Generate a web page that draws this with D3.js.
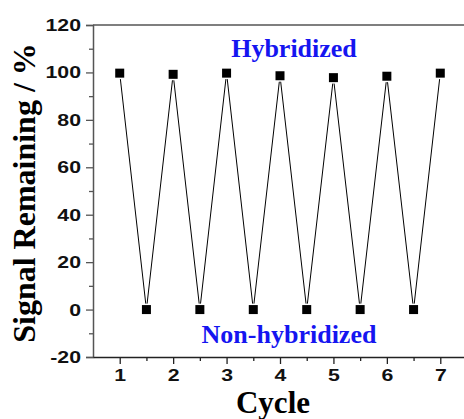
<!DOCTYPE html>
<html>
<head>
<meta charset="utf-8">
<script src="https://cdn.jsdelivr.net/npm/d3@7"></script>
<style>
  body { margin: 0; background: #fff; }
  svg { display: block; }
</style>
</head>
<body>
<div id="chart"></div>
<script>
// data
const cycles = [1, 1.5, 2, 2.5, 3, 3.5, 4, 4.5, 5, 5.5, 6, 6.5, 7];
const signal = [99.7, 0, 99.2, 0, 99.7, 0, 98.6, 0, 97.8, 0, 98.4, 0, 99.7];
const xTicks = [1, 2, 3, 4, 5, 6, 7];
const xMinorTicks = [1.5, 2.5, 3.5, 4.5, 5.5, 6.5];
const yTicks = [-20, 0, 20, 40, 60, 80, 100, 120];
const yMinorTicks = [-10, 10, 30, 50, 70, 90, 110];

const W = 464, H = 419;
const svg = d3.select("#chart").append("svg")
  .attr("width", W).attr("height", H);

const x = d3.scaleLinear().domain([0.5, 7.5]).range([93, 467]);
const y = d3.scaleLinear().domain([-20, 120]).range([357, 25]);

const axisColor = "#555";
const tickFont = "bold 17px 'Liberation Sans', Arial, sans-serif";

// tick labels in the picture are drawn wide; stretch them a bit
function styleTickText(g) {
  g.selectAll(".tick text")
    .style("font", tickFont).attr("fill", "#111")
    .each(function () {
      const len = this.getComputedTextLength();
      d3.select(this).attr("textLength", len * 1.25).attr("lengthAdjust", "spacingAndGlyphs");
    });
}

// frame: top line
svg.append("line")
  .attr("x1", x(0.5)).attr("x2", W)
  .attr("y1", y(120)).attr("y2", y(120))
  .attr("stroke", axisColor).attr("stroke-width", 1.5);

// y axis
svg.append("g").attr("transform", `translate(${x(0.5)},0)`)
  .call(d3.axisLeft(y).tickValues(yTicks).tickSize(7).tickPadding(5).tickFormat(d => String(d)))
  .call(g => g.select(".domain").attr("stroke", axisColor).attr("stroke-width", 1.5))
  .call(g => g.selectAll(".tick line").attr("stroke", axisColor).attr("stroke-width", 1.3))
  .call(styleTickText);
svg.append("g").attr("transform", `translate(${x(0.5)},0)`)
  .call(d3.axisLeft(y).tickValues(yMinorTicks).tickSize(4).tickFormat(""))
  .call(g => g.select(".domain").remove())
  .call(g => g.selectAll(".tick line").attr("stroke", axisColor).attr("stroke-width", 1.3));

// x axis
svg.append("g").attr("transform", `translate(0,${y(-20)})`)
  .call(d3.axisBottom(x).tickValues(xTicks).tickSize(7).tickPadding(5).tickSizeOuter(0).tickFormat(d => String(d)))
  .call(g => g.select(".domain").attr("stroke", "#222").attr("stroke-width", 1.5))
  .call(g => g.selectAll(".tick line").attr("stroke", "#222").attr("stroke-width", 1.3))
  .call(styleTickText);
svg.append("g").attr("transform", `translate(0,${y(-20)})`)
  .call(d3.axisBottom(x).tickValues(xMinorTicks).tickSize(4).tickFormat(""))
  .call(g => g.select(".domain").remove())
  .call(g => g.selectAll(".tick line").attr("stroke", "#222").attr("stroke-width", 1.3));

// connecting segments, stopped short of the markers
const pts = cycles.map((c, i) => [x(c), y(signal[i])]);
const gap = 6;
const segs = d3.pairs(pts).map(([a, b]) => {
  const dx = b[0] - a[0], dy = b[1] - a[1];
  const len = Math.hypot(dx, dy);
  const ux = dx / len, uy = dy / len;
  return [a[0] + ux * gap, a[1] + uy * gap, b[0] - ux * gap, b[1] - uy * gap];
});
svg.append("g").selectAll("line").data(segs).enter().append("line")
  .attr("x1", d => d[0]).attr("y1", d => d[1])
  .attr("x2", d => d[2]).attr("y2", d => d[3])
  .attr("stroke", "#000").attr("stroke-width", 1);

// markers
const ms = 9;
svg.append("g").selectAll("rect").data(pts).enter().append("rect")
  .attr("x", d => d[0] - ms / 2).attr("y", d => d[1] - ms / 2)
  .attr("width", ms).attr("height", ms)
  .attr("fill", "#000");

// annotations
const serif = "'Liberation Serif', 'Times New Roman', serif";
svg.append("text")
  .attr("x", 294).attr("y", 57)
  .attr("text-anchor", "middle")
  .style("font", `bold 26px ${serif}`)
  .attr("fill", "#1515f0")
  .text("Hybridized");
svg.append("text")
  .attr("x", 289).attr("y", 343)
  .attr("text-anchor", "middle")
  .style("font", `bold 26px ${serif}`)
  .attr("fill", "#1515f0")
  .text("Non-hybridized");

// axis titles
svg.append("text")
  .attr("transform", `translate(35,193) rotate(-90)`)
  .attr("text-anchor", "middle")
  .style("font", `bold 32px ${serif}`)
  .attr("fill", "#000")
  .text("Signal Remaining / %");
svg.append("text")
  .attr("x", 273).attr("y", 413)
  .attr("text-anchor", "middle")
  .style("font", `bold 31px ${serif}`)
  .attr("fill", "#000")
  .text("Cycle");
</script>
</body>
</html>
